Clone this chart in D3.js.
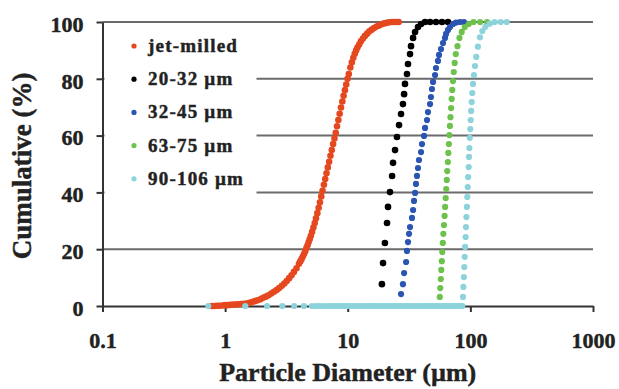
<!DOCTYPE html>
<html>
<head>
<meta charset="utf-8">
<script src="https://cdn.jsdelivr.net/npm/d3@7"></script>
<style>
  html, body { margin: 0; padding: 0; background: #fff; }
  svg { display: block; }
  svg text { stroke: #222; stroke-width: 0.45px; }
</style>
</head>
<body>
<div id="chart"></div>
<script>
// Data: diameter (um) and cumulative (%)
const seriesNames = ["jet-milled", "20-32 µm", "32-45 µm", "63-75 µm", "90-106 µm"];

const jetMilledD = [0.78, 0.82, 0.86, 0.9, 0.95, 1.0, 1.05, 1.1, 1.16, 1.22, 1.28, 1.35, 1.42, 1.5, 1.58, 1.66, 1.75, 1.84, 1.94, 2.04,
    2.15, 2.26, 2.38, 2.5, 2.63, 2.76, 2.9, 3.04, 3.18, 3.33, 3.48, 3.64, 3.82, 4.0, 4.1, 4.2, 4.3, 4.4, 4.5, 4.6,
    4.7, 4.8, 4.9, 5.0, 5.12, 5.25, 5.38, 5.51, 5.65, 5.79, 5.93, 6.08, 6.23, 6.39, 6.55, 6.71, 6.88, 7.05, 7.23, 7.41,
    7.6, 7.79, 7.98, 8.18, 8.38, 8.59, 8.81, 9.03, 9.25, 9.48, 9.72, 9.96, 10.2, 10.5, 10.8, 11.1, 11.4, 11.7, 12.0, 12.4,
    12.8, 13.3, 13.8, 14.4, 15.0, 15.7, 16.4, 17.2, 18.0, 18.9, 19.8, 20.8, 21.8, 22.9, 24.0, 25.2, 26.0];
const jetMilledC = [0, 0, 0.1, 0.1, 0.2, 0.3, 0.3, 0.4, 0.5, 0.5, 0.6, 0.7, 0.8, 0.9, 1.1, 1.4, 1.7, 2.0, 2.4, 2.9,
    3.3, 3.8, 4.4, 5.0, 5.6, 6.3, 7.1, 7.9, 8.8, 9.8, 10.8, 12.0, 13.3, 14.9, 15.7, 16.5, 17.4, 18.3, 19.3, 20.4,
    21.4, 22.5, 23.6, 24.7, 26.1, 27.6, 29.2, 30.9, 32.7, 34.6, 36.5, 38.6, 40.6, 42.7, 44.7, 46.7, 48.8, 50.8, 52.9, 54.9,
    57.0, 59.0, 61.0, 63.3, 65.5, 67.7, 69.9, 72.0, 74.0, 76.0, 78.0, 80.0, 81.7, 84.0, 85.8, 87.4, 88.8, 90.0, 91.0, 92.1,
    93.2, 94.2, 95.1, 95.9, 96.7, 97.3, 97.9, 98.4, 98.8, 99.2, 99.5, 99.7, 99.9, 100, 100, 100, 100];

const s2032D = [19.0, 19.4, 20.1, 20.9, 21.3, 22.1, 23.0, 23.4, 24.3, 25.2, 26.2, 27.2, 28.2, 28.8, 29.3, 30.4, 31.0, 32.2, 32.8, 34.1,
    35.4, 37.4, 39.6, 42.7, 46.9, 52.4, 58.7, 65.7];
const s2032C = [7.7, 15.1, 22.2, 29.2, 34.9, 40.1, 45.8, 50.4, 54.9, 59.5, 63.7, 67.6, 71.1, 74.6, 78.2, 81.7, 85.2, 88.7, 91.5, 94.4,
    96.5, 98.2, 99.3, 100, 100, 100, 100, 100];

const s3245D = [27.2, 28.2, 28.8, 29.9, 30.4, 31.0, 31.6, 32.2, 33.4, 34.1, 34.7, 35.4, 36.0, 36.7, 37.4, 38.1, 39.6, 40.3, 41.9, 42.7,
    44.3, 45.1, 46.9, 47.7, 48.6, 49.6, 51.5, 52.4, 54.4, 55.5, 57.6, 59.8, 62.1, 63.3, 65.7, 68.2, 72.2, 76.3, 82.3, 88.7];
const s3245C = [4.2, 7.7, 11.6, 15.5, 19.4, 22.5, 25.4, 27.8, 31.0, 33.8, 37.0, 39.8, 43.0, 45.8, 48.6, 51.4, 54.2, 57.0, 59.9, 62.7,
    65.5, 68.3, 71.1, 73.6, 76.4, 78.9, 81.3, 83.8, 86.3, 88.4, 90.5, 92.6, 94.4, 95.8, 97.2, 98.2, 99.3, 99.8, 100, 100];

const s6375D = [56.3, 56.8, 57.4, 57.9, 58.5, 59.0, 59.6, 60.2, 60.9, 61.6, 62.2, 62.9, 63.5, 64.2, 64.8, 65.5, 66.1, 66.8, 67.4, 68.1,
    68.8, 69.6, 70.4, 71.2, 72.1, 73.2, 74.5, 76.0, 78.5, 81.5, 85.0, 90.0, 97.0, 106, 120, 137];
const s6375C = [3.2, 6.3, 9.5, 12.7, 15.8, 19.0, 22.2, 25.4, 28.5, 31.7, 34.9, 38.0, 41.2, 44.4, 47.5, 50.7, 53.9, 57.0, 60.2, 63.4,
    66.5, 69.7, 72.9, 76.1, 79.2, 82.4, 85.6, 88.7, 91.5, 94.4, 96.5, 98.2, 99.3, 100, 100, 100];

const s90106D = [0.73, 1.46, 2.2, 2.93, 3.66, 4.39, 5.1, 5.5, 5.85, 6.2, 6.6, 6.95, 7.3, 7.7, 8.1, 8.45, 8.8, 9.15, 9.5, 9.9,
    10.3, 10.65, 11.0, 11.5, 12.0, 12.5, 13.0, 13.5, 14.0, 14.5, 15.0, 15.5, 16.0, 16.5, 17.0, 17.7, 18.5, 19.2, 20.0, 20.7,
    21.5, 22.2, 23.0, 24.0, 25.0, 26.0, 27.0, 28.0, 29.0, 30.0, 31.0, 32.0, 33.0, 34.5, 36.0, 37.5, 39.0, 40.5, 42.0, 43.5,
    45.0, 46.5, 48.0, 50.0, 52.0, 54.0, 56.0, 58.0, 60.0, 62.0, 64.0, 66.0, 68.0, 70.0, 72.0, 74.0, 76.0, 78.0, 80.0, 82.0,
    84.0, 86.0, 87.0, 87.7, 88.5, 89.2, 89.9, 90.6, 91.5, 92.1, 92.8, 93.7, 94.4, 95.2, 95.9, 96.9, 97.4, 98.2, 98.9, 99.8,
    100.6, 101.5, 102.5, 103.6, 105.0, 107.0, 109.0, 111.7, 115.2, 119.7, 125.2, 132.4, 144.0, 158.0, 176.9, 198.0];
const s90106C = [0, 0, 0, 0, 0, 0, 0, 0, 0, 0, 0, 0, 0, 0, 0, 0, 0, 0, 0, 0,
    0, 0, 0, 0, 0, 0, 0, 0, 0, 0, 0, 0, 0, 0, 0, 0, 0, 0, 0, 0,
    0, 0, 0, 0, 0, 0, 0, 0, 0, 0, 0, 0, 0, 0, 0, 0, 0, 0, 0, 0,
    0, 0, 0, 0, 0, 0, 0, 0, 0, 0, 0, 0, 0, 0, 0, 0, 0, 0, 0, 0,
    0, 0, 3.2, 6.7, 10.2, 13.7, 17.3, 20.8, 24.3, 27.8, 31.3, 34.9, 38.4, 41.9, 45.4, 48.9, 52.5, 55.6, 59.2, 62.3,
    65.5, 68.7, 71.8, 75.0, 78.2, 81.3, 84.5, 87.7, 91.3, 94.6, 96.8, 98.3, 99.4, 100, 100, 100];

const xTicks = [0.1, 1, 10, 100, 1000];
const yTicks = [0, 20, 40, 60, 80, 100];

const colors = ["#e5481f", "#000000", "#2a55b2", "#6cc24c", "#8dd3dc"];
const radii = [3.3, 3.3, 3.1, 3.1, 3.1];

const width = 619;
const height = 389;
const margin = { top: 22, right: 26, bottom: 83, left: 102.5 };
const font = "'Liberation Serif', 'Times New Roman', serif";

const series = [
    { d: jetMilledD, c: jetMilledC },
    { d: s2032D, c: s2032C },
    { d: s3245D, c: s3245C },
    { d: s6375D, c: s6375C },
    { d: s90106D, c: s90106C }
].map((s, i) => ({
    name: seriesNames[i],
    color: colors[i],
    r: radii[i],
    points: s.d.map((d, j) => ({ d: d, c: s.c[j] }))
}));

const svg = d3.select("#chart").append("svg")
    .attr("width", width)
    .attr("height", height);

const x = d3.scaleLog()
    .domain([0.1, 1000])
    .range([margin.left, width - margin.right]);

const y = d3.scaleLinear()
    .domain([0, 100])
    .range([height - margin.bottom, margin.top]);

// gridlines
svg.append("g")
    .selectAll("line")
    .data(yTicks.filter(t => t > 0))
    .join("line")
    .attr("x1", x(0.1))
    .attr("x2", x(1000))
    .attr("y1", d => y(d))
    .attr("y2", d => y(d))
    .attr("stroke", "#6a6a6a")
    .attr("stroke-width", 2);

// y axis
svg.append("g")
    .attr("transform", `translate(${x(0.1)},0)`)
    .call(d3.axisLeft(y).tickValues(yTicks).tickSize(6).tickSizeOuter(0).tickFormat(d3.format("d")))
    .call(g => g.select(".domain").attr("stroke", "#333").attr("stroke-width", 2))
    .call(g => g.selectAll(".tick line").attr("stroke", "#333").attr("stroke-width", 2))
    .call(g => g.selectAll(".tick text")
        .attr("x", -19)
        .attr("dy", "0.42em")
        .attr("fill", "#222")
        .style("font", `bold 22px ${font}`));

// x axis
svg.append("g")
    .attr("transform", `translate(0,${y(0)})`)
    .call(d3.axisBottom(x).tickValues(xTicks).tickSize(6).tickSizeOuter(0).tickFormat(d => String(d)))
    .call(g => g.select(".domain").attr("stroke", "#333").attr("stroke-width", 2))
    .call(g => g.selectAll(".tick line").attr("stroke", "#333").attr("stroke-width", 2))
    .call(g => g.selectAll(".tick text")
        .attr("y", 42)
        .attr("dy", 0)
        .attr("fill", "#222")
        .style("font", `bold 22px ${font}`));

// data points
series.forEach(s => {
    svg.append("g")
        .attr("fill", s.color)
        .selectAll("circle")
        .data(s.points)
        .join("circle")
        .attr("cx", p => x(p.d))
        .attr("cy", p => y(p.c))
        .attr("r", s.r);
});

// legend
const legend = svg.append("g");
legend.append("rect")
    .attr("x", x(0.1) + 2)
    .attr("y", 28)
    .attr("width", 152)
    .attr("height", 172)
    .attr("fill", "#fff");

const rows = legend.selectAll("g.row")
    .data(series)
    .join("g")
    .attr("class", "row")
    .attr("transform", (s, i) => `translate(134,${46 + i * 33.2})`);

rows.append("circle")
    .attr("r", 2.6)
    .attr("fill", s => s.color);

rows.append("text")
    .attr("x", 14)
    .attr("y", 6)
    .attr("fill", "#222")
    .style("font", `bold 19px ${font}`)
    .style("letter-spacing", "1.2px")
    .text(s => s.name);

// axis titles
svg.append("text")
    .attr("transform", `translate(31,${(y(0) + y(100)) / 2 + 2}) rotate(-90)`)
    .attr("text-anchor", "middle")
    .attr("fill", "#222")
    .style("font", `bold 27px ${font}`)
    .text("Cumulative (%)");

svg.append("text")
    .attr("x", (x(0.1) + x(1000)) / 2)
    .attr("y", 381)
    .attr("text-anchor", "middle")
    .attr("fill", "#222")
    .style("font", `bold 26px ${font}`)
    .text("Particle Diameter (µm)");
</script>
</body>
</html>
